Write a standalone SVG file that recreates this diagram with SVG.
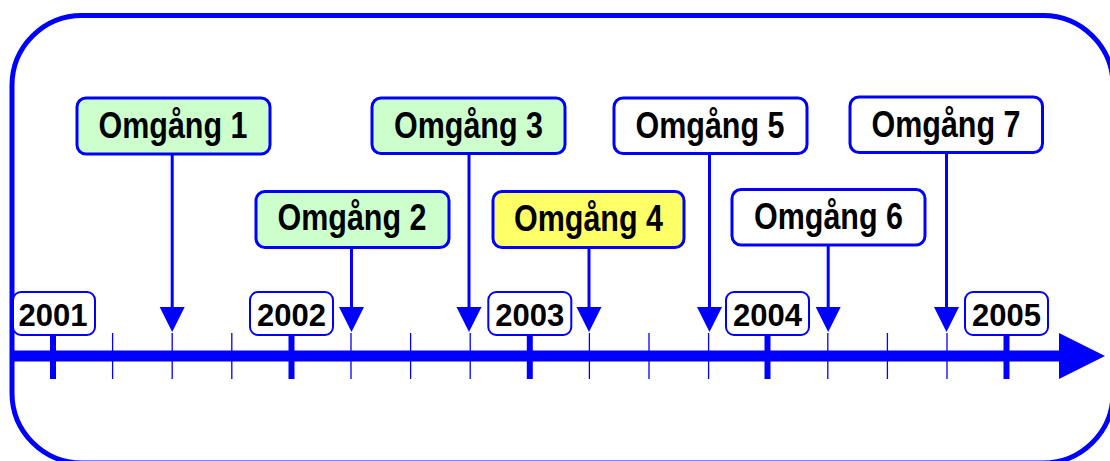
<svg xmlns="http://www.w3.org/2000/svg" width="1110" height="461" viewBox="0 0 1110 461">
<defs>
<style>
.frame{fill:#fff;stroke:#0000ff;stroke-width:5}
.axis{stroke:#0000ff;stroke-width:11}
.minor{stroke:#0000ff;stroke-width:1.3}
.major{stroke:#0000ff;stroke-width:6}
.ybox{fill:#fff;stroke:#0000ff;stroke-width:2}
.ytxt{font-family:"Liberation Sans",Arial,sans-serif;font-weight:bold;font-size:31px;fill:#000;text-anchor:middle}
.obox{stroke:#0000ff;stroke-width:3}
.green{fill:#ccffcc}
.yellow{fill:#ffff66}
.white{fill:#ffffff}
.otxt{font-family:"Liberation Sans",Arial,sans-serif;font-weight:bold;font-size:36px;fill:#000;text-anchor:middle}
.stem{stroke:#0000ff;stroke-width:3;fill:none}
.head{fill:#0000ff}
</style>
</defs>
<rect class="frame" x="12" y="15.5" width="1101" height="447.5" rx="70" ry="70"/>
<g id="axis">
<line class="minor" x1="112.6" y1="333" x2="112.6" y2="379"/>
<line class="minor" x1="172.2" y1="333" x2="172.2" y2="379"/>
<line class="minor" x1="231.8" y1="333" x2="231.8" y2="379"/>
<line class="minor" x1="351" y1="333" x2="351" y2="379"/>
<line class="minor" x1="410.6" y1="333" x2="410.6" y2="379"/>
<line class="minor" x1="470.2" y1="333" x2="470.2" y2="379"/>
<line class="minor" x1="589.4" y1="333" x2="589.4" y2="379"/>
<line class="minor" x1="649" y1="333" x2="649" y2="379"/>
<line class="minor" x1="708.6" y1="333" x2="708.6" y2="379"/>
<line class="minor" x1="827.8" y1="333" x2="827.8" y2="379"/>
<line class="minor" x1="887.4" y1="333" x2="887.4" y2="379"/>
<line class="minor" x1="947" y1="333" x2="947" y2="379"/>
<line class="axis" x1="12" y1="356" x2="1062" y2="356"/>
<polygon class="head" points="1059,333 1105,356 1059,379"/>
<line class="major" x1="53" y1="335" x2="53" y2="379"/>
<line class="major" x1="291.5" y1="335" x2="291.5" y2="379"/>
<line class="major" x1="529.8" y1="335" x2="529.8" y2="379"/>
<line class="major" x1="767.5" y1="335" x2="767.5" y2="379"/>
<line class="major" x1="1006.5" y1="335" x2="1006.5" y2="379"/>
</g>
<g id="y2001"><rect class="ybox" x="13" y="292" width="82" height="43" rx="8"/><text class="ytxt" x="53" y="325.5">2001</text></g>
<g id="y2002"><rect class="ybox" x="250" y="292" width="83" height="43" rx="8"/><text class="ytxt" x="291.5" y="325.5">2002</text></g>
<g id="y2003"><rect class="ybox" x="488.3" y="292" width="83" height="43" rx="8"/><text class="ytxt" x="529.8" y="325.5">2003</text></g>
<g id="y2004"><rect class="ybox" x="726" y="292" width="83" height="43" rx="8"/><text class="ytxt" x="767.5" y="325.5">2004</text></g>
<g id="y2005"><rect class="ybox" x="965" y="292" width="83" height="43" rx="8"/><text class="ytxt" x="1006.5" y="325.5">2005</text></g>
<g id="connectors">
<line class="stem" x1="172.2" y1="154" x2="172.2" y2="308"/><polygon class="head" points="159.7,307 184.7,307 172.2,332"/>
<line class="stem" x1="351.5" y1="247" x2="351.5" y2="308"/><polygon class="head" points="339,307 364,307 351.5,332"/>
<line class="stem" x1="469" y1="153" x2="469" y2="308"/><polygon class="head" points="456.5,307 481.5,307 469,332"/>
<line class="stem" x1="589" y1="248" x2="589" y2="308"/><polygon class="head" points="576.5,307 601.5,307 589,332"/>
<line class="stem" x1="709.5" y1="153" x2="709.5" y2="308"/><polygon class="head" points="697,307 722,307 709.5,332"/>
<line class="stem" x1="828.2" y1="245" x2="828.2" y2="308"/><polygon class="head" points="815.7,307 840.7,307 828.2,332"/>
<line class="stem" x1="946.5" y1="152" x2="946.5" y2="308"/><polygon class="head" points="934,307 959,307 946.5,332"/>
</g>
<g id="omgang1"><rect class="obox green" x="77" y="98" width="193" height="56" rx="9"/><text class="otxt" x="173" y="138" textLength="149" lengthAdjust="spacingAndGlyphs">Omgång 1</text></g>
<g id="omgang2"><rect class="obox green" x="256" y="191.5" width="193" height="56" rx="9"/><text class="otxt" x="352" y="230" textLength="149" lengthAdjust="spacingAndGlyphs">Omgång 2</text></g>
<g id="omgang3"><rect class="obox green" x="372" y="98" width="193" height="55.5" rx="9"/><text class="otxt" x="468.5" y="137.5" textLength="149" lengthAdjust="spacingAndGlyphs">Omgång 3</text></g>
<g id="omgang4"><rect class="obox yellow" x="493" y="191.5" width="191" height="56" rx="9"/><text class="otxt" x="588.5" y="230.5" textLength="149" lengthAdjust="spacingAndGlyphs">Omgång 4</text></g>
<g id="omgang5"><rect class="obox white" x="614" y="98" width="193" height="55.5" rx="9"/><text class="otxt" x="710" y="137.5" textLength="149" lengthAdjust="spacingAndGlyphs">Omgång 5</text></g>
<g id="omgang6"><rect class="obox white" x="732" y="189.5" width="193" height="55.5" rx="9"/><text class="otxt" x="828.5" y="228.5" textLength="149" lengthAdjust="spacingAndGlyphs">Omgång 6</text></g>
<g id="omgang7"><rect class="obox white" x="850" y="97" width="192.5" height="55.5" rx="9"/><text class="otxt" x="946" y="136.5" textLength="149" lengthAdjust="spacingAndGlyphs">Omgång 7</text></g>
</svg>
